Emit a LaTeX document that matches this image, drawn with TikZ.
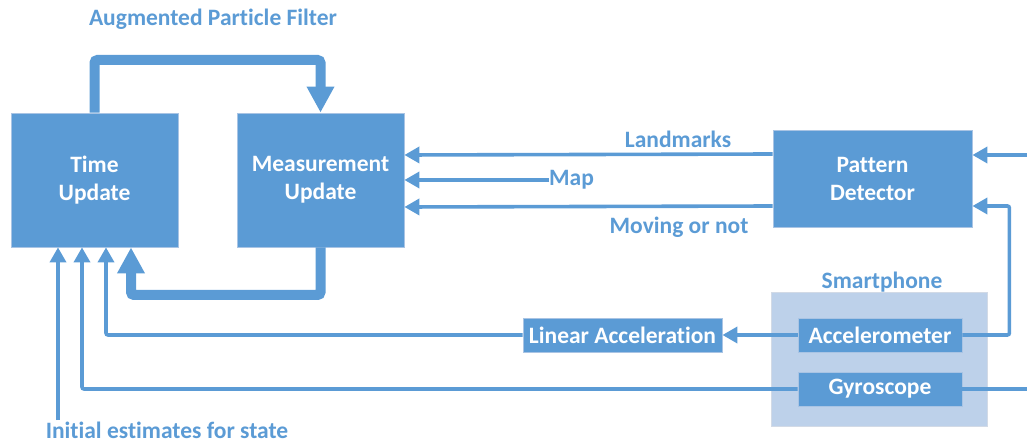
\documentclass[tikz,border=0pt]{standalone}
\usepackage{fontspec}
\setmainfont{Carlito}[Ligatures=NoCommon]
\usetikzlibrary{arrows.meta}
\definecolor{bl}{HTML}{5B9BD5}
\definecolor{blborder}{HTML}{A9C4E4}
\definecolor{spfill}{HTML}{BDD1EA}
\definecolor{spborder}{HTML}{D2DAE6}
\begin{document}
\begin{tikzpicture}[x=1pt,y=-1pt,
  bigbox/.style={fill=bl,draw=blborder,line width=0.8pt,inner sep=0pt,align=center,text=white,
    font=\fontsize{23.5}{28}\selectfont\bfseries},
  smallbox/.style={fill=bl,draw=blborder,line width=0.8pt,inner sep=0pt,align=center,text=white,
    minimum height=34pt,font=\fontsize{23.5}{28}\selectfont\bfseries},
  lbl/.style={text=bl,inner sep=0pt,font=\fontsize{23.5}{28}\selectfont\bfseries},
  thickarrow/.style={draw=bl,line width=10pt,rounded corners=3pt,-{Triangle[width=26pt,length=26pt]}},
  thinarrow/.style={draw=bl,line width=3.6pt,rounded corners=2pt,-{Triangle[width=16pt,length=15pt]}},
  thinline/.style={draw=bl,line width=3.6pt}
]
\useasboundingbox (0,0) rectangle (1027,443);

% Smartphone container
\node[fill=spfill,draw=spborder,line width=0.8pt,minimum width=216pt,minimum height=134pt,inner sep=0pt] (SP) at (879,359) {};
\node[lbl] (splbl) at (882,282) {Smartphone};

% main boxes
\node[bigbox,minimum width=167pt,minimum height=134pt] (TU) at (94.5,180) {Time\\Update};
\node[bigbox,minimum width=167pt,minimum height=134pt] (MU) at (320.5,180) {Measurement\\Update};
\node[bigbox,minimum width=199pt,minimum height=97pt] (PD) at (872.5,179) {Pattern\\Detector};
\node[smallbox,minimum width=164pt] (AC) at (880,335) {Accelerometer};
\node[smallbox,minimum width=164pt] (GY) at (880,389) {Gyroscope};
\node[smallbox,minimum width=199pt] (LA) at (622.5,335) {Linear Acceleration};

% labels
\node[lbl] (title) at (213,19) {Augmented Particle Filter};
\node[lbl] (landl) at (678,139) {Landmarks};
\node[lbl] (movl) at (679,227) {Moving or not};
\node[lbl,anchor=west] (map) at (549,180) {Map};
\node[lbl] (init) at (167,430) {Initial estimates for state};

% free ends
\coordinate (rin) at (1030,155);
\coordinate (gyout) at (1030,389);
\coordinate (initstart) at (58,420);

% thick loop
\draw[thickarrow] (TU.north) -- (TU.north |- 0,60) -| (MU.north);
\draw[thickarrow] (MU.south) -- (MU.south |- 0,295) -| ([xshift=36.5pt]TU.south);

% inputs to Time Update
\draw[thinarrow] (initstart) -- ([xshift=-36.5pt]TU.south);
\draw[thinarrow] (GY.west) -| ([xshift=-12.5pt]TU.south);
\draw[thinarrow] (LA.west) -| ([xshift=11.5pt]TU.south);

% to Measurement Update
\draw[thinarrow] ([yshift=25pt]PD.west) -- ([yshift=25pt]MU.east);
\draw[thinarrow] (map.west) -- (MU.east);
\draw[thinarrow] ([yshift=-27pt]PD.west) -- ([yshift=-27pt]MU.east);

% into Pattern Detector
\draw[thinarrow] (rin) -- (rin -| PD.east);
\draw[thinarrow] (AC.east) -- ++(47,0) |- ([yshift=-27pt]PD.east);

% accelerometer to linear acceleration
\draw[thinarrow] (AC.west) -- (LA.east);

% gyroscope out to the right
\draw[thinline] (GY.east) -- (gyout);
\end{tikzpicture}
\end{document}
